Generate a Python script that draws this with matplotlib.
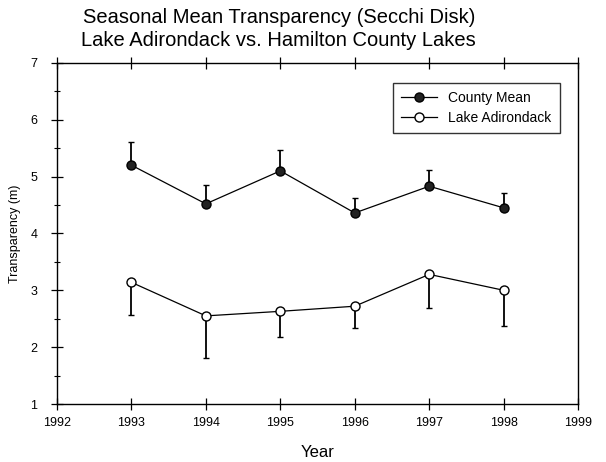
import matplotlib
matplotlib.use("Agg")
import matplotlib.pyplot as plt
from matplotlib.ticker import MultipleLocator

years = [1993, 1994, 1995, 1996, 1997, 1998]
county_mean = [5.20, 4.52, 5.10, 4.36, 4.83, 4.45]
county_err_up = [0.41, 0.33, 0.37, 0.26, 0.29, 0.26]
lake_adk = [3.14, 2.55, 2.63, 2.72, 3.28, 3.00]
lake_err_down = [0.58, 0.74, 0.45, 0.39, 0.59, 0.63]
xticks = [1992, 1993, 1994, 1995, 1996, 1997, 1998, 1999]

plt.rcParams['font.family'] = ['Liberation Sans', 'DejaVu Sans']

fig = plt.figure(figsize=(6.06, 4.62), dpi=100)
ax = fig.add_axes([0.094, 0.1255, 0.860, 0.7385])

zeros = [0] * len(years)
ax.errorbar(years, county_mean, yerr=[zeros, county_err_up], fmt='none',
            ecolor='black', elinewidth=1.3, capsize=2.5, capthick=1)
ax.errorbar(years, lake_adk, yerr=[lake_err_down, zeros], fmt='none',
            ecolor='black', elinewidth=1.3, capsize=2.5, capthick=1)
ax.plot(years, county_mean, color='black', lw=0.9, marker='o', markersize=6.5,
        markerfacecolor='#222222', markeredgecolor='black', label='County Mean', zorder=3)
ax.plot(years, lake_adk, color='black', lw=0.9, marker='o', markersize=6.5,
        markerfacecolor='white', markeredgecolor='black', label='Lake Adirondack', zorder=3)

ax.set_xlim(1992, 1999)
ax.set_ylim(1, 7)
ax.set_xticks(xticks)
ax.set_xticklabels([str(x) for x in xticks])
ax.yaxis.set_major_locator(MultipleLocator(1))
ax.yaxis.set_minor_locator(MultipleLocator(0.5))
ax.tick_params(axis='both', which='major', direction='inout', length=8, width=0.9,
               labelsize=9, top=True, right=False)
ax.tick_params(axis='y', which='major', pad=10)
ax.tick_params(axis='x', which='major', pad=5)
ax.tick_params(axis='y', which='minor', direction='inout', length=4, width=0.8)
for s in ax.spines.values():
    s.set_linewidth(1.0)

ax.set_xlabel('Year', fontsize=12, labelpad=12)
ax.set_ylabel('Transparency (m)', fontsize=9, labelpad=7)
fig.text(0.46, 0.963, 'Seasonal Mean Transparency (Secchi Disk)', fontsize=14.5,
         ha='center', va='center')
fig.text(0.46, 0.913, 'Lake Adirondack vs. Hamilton County Lakes', fontsize=14.5,
         ha='center', va='center')

leg = ax.legend(loc='upper right', bbox_to_anchor=(0.965, 0.941), fontsize=10,
                frameon=True, fancybox=False, edgecolor='black', borderpad=0.6,
                handlelength=2.6, labelspacing=0.4, borderaxespad=0)
leg.get_frame().set_linewidth(1.0)

fig.savefig('out.png', dpi=100)
